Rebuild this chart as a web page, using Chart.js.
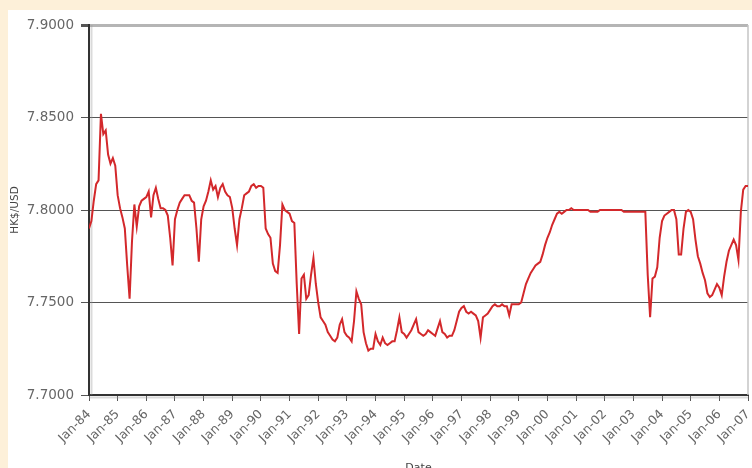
<!DOCTYPE html>
<html>
<head>
<meta charset="utf-8">
<script src="https://cdn.jsdelivr.net/npm/chart.js@4.4.1/dist/chart.umd.min.js"></script>
<style>
  html, body { margin: 0; padding: 0; width: 752px; height: 468px; overflow: hidden; background: #fdf0d9; }
  #panel { position: absolute; left: 8px; top: 10px; width: 744px; height: 458px; background: #ffffff; }
  #wrap { position: absolute; left: 0; top: 0; width: 752px; height: 475px; }
  canvas { display: block; }
</style>
</head>
<body>
<div id="panel"></div>
<div id="wrap"><canvas id="c" width="752" height="475" style="width:752px;height:475px"></canvas></div>
<script>
// Year labels for the January tick marks
const yearLabels = ['Jan-84','Jan-85','Jan-86','Jan-87','Jan-88','Jan-89','Jan-90','Jan-91',
  'Jan-92','Jan-93','Jan-94','Jan-95','Jan-96','Jan-97','Jan-98','Jan-99','Jan-00','Jan-01',
  'Jan-02','Jan-03','Jan-04','Jan-05','Jan-06','Jan-07'];

// Monthly HK$/USD rates, Jan 1984 .. Jan 2007
const rates = [
  // 1984
  7.790, 7.794, 7.805, 7.814, 7.816, 7.852, 7.841, 7.843, 7.830, 7.825, 7.828, 7.824,
  // 1985
  7.808, 7.801, 7.796, 7.790, 7.770, 7.752, 7.783, 7.803, 7.791, 7.802, 7.805, 7.806,
  // 1986
  7.807, 7.810, 7.796, 7.808, 7.812, 7.806, 7.801, 7.801, 7.800, 7.797, 7.785, 7.770,
  // 1987
  7.795, 7.800, 7.804, 7.806, 7.808, 7.808, 7.808, 7.805, 7.804, 7.790, 7.772, 7.795,
  // 1988
  7.802, 7.805, 7.810, 7.816, 7.811, 7.813, 7.807, 7.812, 7.814, 7.810, 7.808, 7.807,
  // 1989
  7.801, 7.790, 7.781, 7.795, 7.801, 7.808, 7.809, 7.810, 7.813, 7.814, 7.812, 7.813,
  // 1990
  7.813, 7.812, 7.790, 7.787, 7.785, 7.771, 7.767, 7.766, 7.781, 7.803, 7.800, 7.799,
  // 1991
  7.798, 7.794, 7.793, 7.760, 7.733, 7.763, 7.765, 7.752, 7.754, 7.765, 7.774, 7.760,
  // 1992
  7.750, 7.742, 7.740, 7.738, 7.734, 7.732, 7.730, 7.729, 7.731, 7.738, 7.741, 7.734,
  // 1993
  7.732, 7.731, 7.729, 7.740, 7.756, 7.752, 7.749, 7.734, 7.728, 7.724, 7.725, 7.725,
  // 1994
  7.733, 7.729, 7.727, 7.731, 7.728, 7.727, 7.728, 7.729, 7.729, 7.735, 7.742, 7.734,
  // 1995
  7.733, 7.731, 7.733, 7.735, 7.738, 7.741, 7.734, 7.733, 7.732, 7.733, 7.735, 7.734,
  // 1996
  7.733, 7.732, 7.736, 7.740, 7.734, 7.733, 7.731, 7.732, 7.732, 7.735, 7.740, 7.745,
  // 1997
  7.747, 7.748, 7.745, 7.744, 7.745, 7.744, 7.743, 7.740, 7.731, 7.742, 7.743, 7.744,
  // 1998
  7.746, 7.748, 7.749, 7.748, 7.748, 7.749, 7.748, 7.748, 7.743, 7.749, 7.749, 7.749,
  // 1999
  7.749, 7.750, 7.755, 7.760, 7.763, 7.766, 7.768, 7.770, 7.771, 7.772, 7.776, 7.781,
  // 2000
  7.785, 7.788, 7.792, 7.795, 7.798, 7.799, 7.798, 7.799, 7.800, 7.800, 7.801, 7.800,
  // 2001
  7.800, 7.800, 7.800, 7.800, 7.800, 7.800, 7.799, 7.799, 7.799, 7.799, 7.800, 7.800,
  // 2002
  7.800, 7.800, 7.800, 7.800, 7.800, 7.800, 7.800, 7.800, 7.799, 7.799, 7.799, 7.799,
  // 2003
  7.799, 7.799, 7.799, 7.799, 7.799, 7.799, 7.765, 7.742, 7.763, 7.764, 7.769, 7.785,
  // 2004
  7.794, 7.797, 7.798, 7.799, 7.800, 7.800, 7.795, 7.776, 7.776, 7.790, 7.799, 7.800,
  // 2005
  7.799, 7.795, 7.784, 7.775, 7.771, 7.766, 7.762, 7.755, 7.753, 7.754, 7.757, 7.760,
  // 2006
  7.758, 7.754, 7.764, 7.772, 7.778, 7.781, 7.784, 7.781, 7.773, 7.799, 7.811, 7.813,
  // 2007
  7.813
];

// Value-axis ticks
const yTicks = [7.70, 7.75, 7.80, 7.85, 7.90];

const points = rates.map((v, i) => ({ x: i, y: v }));

// Plot frame: right edge and a faint shadow beside the two axes
const framePlugin = {
  id: 'frame',
  beforeDatasetsDraw(chart) {
    const { ctx, chartArea: a } = chart;
    ctx.save();
    ctx.strokeStyle = '#c4c4c4';
    ctx.lineWidth = 1.5;
    ctx.beginPath();
    ctx.moveTo(a.right, a.top);
    ctx.lineTo(a.right, a.bottom);
    ctx.stroke();
    ctx.strokeStyle = 'rgba(150,150,150,0.35)';
    ctx.lineWidth = 2;
    ctx.beginPath();
    ctx.moveTo(a.left + 2.5, a.top);
    ctx.lineTo(a.left + 2.5, a.bottom);
    ctx.moveTo(a.left, a.bottom + 2.5);
    ctx.lineTo(a.right, a.bottom + 2.5);
    ctx.stroke();
    ctx.restore();
  }
};

new Chart(document.getElementById('c'), {
  type: 'line',
  data: {
    datasets: [{
      data: points,
      borderColor: '#d3282b',
      borderWidth: 2,
      pointRadius: 0,
      tension: 0,
      fill: false
    }]
  },
  options: {
    responsive: false,
    animation: false,
    layout: { padding: { top: 25, right: 4, left: 0, bottom: 0 } },
    plugins: { legend: { display: false }, tooltip: { enabled: false } },
    scales: {
      x: {
        type: 'linear',
        min: 0,
        max: rates.length - 1,
        afterFit(scale) {
          scale.height = 80;
          scale.paddingLeft = 0;
          scale.paddingRight = 0;
        },
        afterBuildTicks(scale) {
          scale.ticks = yearLabels.map((_, i) => ({ value: i * 12 }));
        },
        ticks: {
          autoSkip: false,
          maxRotation: 45,
          minRotation: 45,
          padding: 6,
          color: '#666',
          font: { family: 'DejaVu Sans', size: 12.5 },
          callback: (v) => yearLabels[Math.round(v / 12)]
        },
        grid: { drawOnChartArea: false, drawTicks: true, tickLength: 6, tickColor: '#555' },
        border: { color: '#333', width: 2 },
        title: {
          display: true, text: 'Date', color: '#444',
          font: { family: 'DejaVu Sans', size: 11 },
          padding: { top: 0, bottom: 0 }
        }
      },
      y: {
        min: 7.70,
        max: 7.90,
        afterFit(scale) { scale.width = 89; },
        afterBuildTicks(scale) {
          scale.ticks = yTicks.map(v => ({ value: v }));
        },
        ticks: {
          padding: 7,
          color: '#666',
          font: { family: 'DejaVu Sans', size: 13.5 },
          callback: (v) => Number(v).toFixed(4)
        },
        grid: {
          tickLength: 8,
          tickColor: '#555',
          color: (ctx) => (ctx.tick && Math.abs(ctx.tick.value - 7.90) < 1e-6) ? '#b5b5b5' : '#555',
          lineWidth: (ctx) => (ctx.tick && Math.abs(ctx.tick.value - 7.90) < 1e-6) ? 3 : 1
        },
        border: { color: '#333', width: 2 },
        title: {
          display: true, text: 'HK$/USD', color: '#444',
          font: { family: 'DejaVu Sans', size: 10.5 },
          padding: { top: 9, bottom: 0 }
        }
      }
    }
  },
  plugins: [framePlugin]
});
</script>
</body>
</html>
